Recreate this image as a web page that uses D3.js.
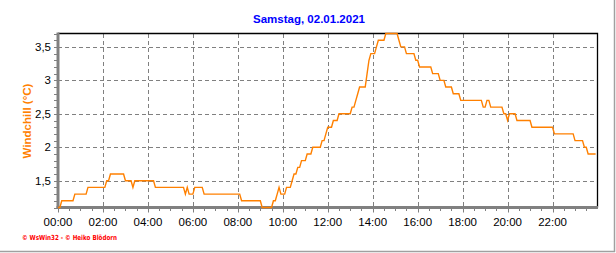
<!DOCTYPE html>
<html>
<head>
<meta charset="utf-8">
<script src="https://cdn.jsdelivr.net/npm/d3@7"></script>
<style>
  body { margin: 0; background: #fff; }
  svg { display: block; font-family: "Liberation Sans", Arial, sans-serif; }
</style>
</head>
<body>
<svg id="chart" width="616" height="253"></svg>
<script>
// Windchill, Samstag 02.01.2021 (5 min samples at change points)
var title = "Samstag, 02.01.2021";
var yLabel = "Windchill  (\u00B0C)";
var credits = "\u00A9 WsWin32  -  \u00A9 Heiko Bl\u00F6dorn";

var times = ["00:00","00:05","00:10","00:40","00:45","01:15","01:20","02:05","02:10","02:15",
  "02:20","02:55","03:00","03:15","03:20","03:25","04:15","04:20","05:35","05:40",
  "05:45","05:50","06:00","06:05","06:25","06:30","08:05","08:10","09:00","09:05",
  "09:30","09:35","09:40","09:45","09:50","09:55","10:05","10:10","10:20","10:25",
  "10:30","10:35","10:40","10:45","10:50","11:00","11:05","11:15","11:20","11:40",
  "11:45","11:50","11:55","12:00","12:10","12:15","12:25","12:30","13:00","13:05",
  "13:10","13:15","13:20","13:25","13:40","13:45","13:50","13:55","14:05","14:10",
  "14:15","14:30","14:35","15:05","15:10","15:15","15:25","15:30","15:50","15:55",
  "16:00","16:05","16:35","16:40","16:55","17:00","17:10","17:15","17:30","17:35",
  "17:50","17:55","18:50","18:55","19:00","19:05","19:10","19:15","19:45","19:50",
  "19:55","20:00","20:05","20:20","20:25","21:00","21:05","22:00","22:05","22:55",
  "23:00","23:20","23:25","23:30","23:35","23:55"];
var values = [1.1,1.1,1.2,1.2,1.3,1.3,1.4,1.4,1.5,1.5,
  1.6,1.6,1.5,1.5,1.4,1.5,1.5,1.4,1.4,1.3,
  1.4,1.3,1.3,1.4,1.4,1.3,1.3,1.2,1.2,1.1,
  1.1,1.2,1.2,1.3,1.4,1.3,1.3,1.4,1.4,1.5,
  1.6,1.6,1.7,1.7,1.8,1.8,1.9,1.9,2.0,2.0,
  2.1,2.1,2.2,2.3,2.3,2.4,2.4,2.5,2.5,2.6,
  2.6,2.7,2.8,2.9,2.9,3.1,3.3,3.4,3.4,3.5,
  3.6,3.6,3.7,3.7,3.6,3.5,3.5,3.4,3.4,3.3,
  3.3,3.2,3.2,3.1,3.1,3.0,3.0,2.9,2.9,2.8,
  2.8,2.7,2.7,2.6,2.6,2.7,2.7,2.6,2.6,2.5,
  2.5,2.4,2.5,2.5,2.4,2.4,2.3,2.3,2.2,2.2,
  2.1,2.1,2.0,2.0,1.9,1.9];

var xTickLabels = ["00:00","02:00","04:00","06:00","08:00","10:00","12:00","14:00","16:00","18:00","20:00","22:00"];
var yTicks = [1.5, 2, 2.5, 3, 3.5];

// plot box (note: "top" is a reserved window prop, so use pTop etc.)
var pLeft = 58, pRight = 597.5, pTop = 33.5, pBottom = 207.5;

function hours(s) {
    var p = s.split(":");
    return +p[0] + (+p[1]) / 60;
}

var svg = d3.select("#chart");

var x = d3.scaleLinear().domain([0, 24]).range([pLeft, pRight]);
var y = d3.scaleLinear().domain([1.1, 3.7]).range([pBottom, pTop]);

var data = times.map(function (t, i) { return {h: hours(t), v: values[i]}; });

// outer frame (right / bottom shadow)
svg.append("line").attr("x1", 614.5).attr("x2", 614.5).attr("y1", 0).attr("y2", 252)
    .attr("stroke", "#a0a0a0").attr("stroke-width", 1.5);
svg.append("line").attr("x1", 0).attr("x2", 615).attr("y1", 251.5).attr("y2", 251.5)
    .attr("stroke", "#a0a0a0").attr("stroke-width", 1.5);

// grid
var grid = svg.append("g").attr("stroke", "#808080").attr("stroke-dasharray", "4,3")
    .attr("shape-rendering", "crispEdges");
grid.selectAll("line.h").data(yTicks).enter().append("line")
    .attr("x1", pLeft).attr("x2", pRight)
    .attr("y1", function (d) { return Math.round(y(d)) + 0.5; })
    .attr("y2", function (d) { return Math.round(y(d)) + 0.5; });
grid.selectAll("line.v").data(xTickLabels.slice(1)).enter().append("line")
    .attr("y1", pTop).attr("y2", pBottom)
    .attr("x1", function (d) { return Math.round(x(hours(d))) + 0.5; })
    .attr("x2", function (d) { return Math.round(x(hours(d))) + 0.5; });

// top / right black border
svg.append("path")
    .attr("d", "M" + pLeft + "," + pTop + "H" + pRight + "V" + pBottom)
    .attr("fill", "none").attr("stroke", "#000").attr("stroke-width", 1.3);

// minor / major ticks
var yMinor = d3.range(11, 38).map(function (d) { return d / 10; });
svg.append("g").selectAll("line").data(yMinor).enter().append("line")
    .attr("x1", pLeft - 4).attr("x2", pLeft)
    .attr("y1", function (d) { return Math.round(y(d)) + 0.5; })
    .attr("y2", function (d) { return Math.round(y(d)) + 0.5; })
    .attr("stroke", "#808080");
var xMinor = d3.range(0, 48).map(function (d) { return d / 2; });
svg.append("g").selectAll("line").data(xMinor).enter().append("line")
    .attr("y1", pBottom).attr("y2", function (d) { return pBottom + (d % 2 === 0 ? 5 : 3.5); })
    .attr("x1", function (d) { return Math.round(x(d)) + 0.5; })
    .attr("x2", function (d) { return Math.round(x(d)) + 0.5; })
    .attr("stroke", "#808080");

// axis lines (thick gray)
svg.append("line").attr("x1", pLeft).attr("x2", pLeft).attr("y1", pTop - 1).attr("y2", pBottom + 1.5)
    .attr("stroke", "#808080").attr("stroke-width", 3);
svg.append("line").attr("x1", pLeft - 1.5).attr("x2", pRight + 0.5).attr("y1", pBottom).attr("y2", pBottom)
    .attr("stroke", "#808080").attr("stroke-width", 3);

// tick labels
svg.append("g").selectAll("text").data(yTicks).enter().append("text")
    .attr("x", 51).attr("y", function (d) { return y(d) + 4; })
    .attr("text-anchor", "end").attr("font-size", 11.5)
    .text(function (d) { return String(d).replace(".", ","); });
svg.append("g").selectAll("text").data(xTickLabels).enter().append("text")
    .attr("x", function (d) { return x(hours(d)); }).attr("y", 225.5)
    .attr("text-anchor", "middle").attr("font-size", 11.5)
    .text(function (d) { return d; });

// line
var line = d3.line()
    .x(function (d) { return x(d.h); })
    .y(function (d) { return y(d.v); });
svg.append("path").datum(data)
    .attr("d", line)
    .attr("fill", "none").attr("stroke", "#ff8000").attr("stroke-width", 1.4);

// texts
svg.append("text").attr("x", 309).attr("y", 22.5).attr("text-anchor", "middle")
    .attr("font-size", 11.5).attr("font-weight", "bold").attr("fill", "#0000ff")
    .text(title);
svg.append("text").attr("transform", "translate(30.5,121) rotate(-90)")
    .attr("text-anchor", "middle").attr("font-size", 11.5).attr("font-weight", "bold")
    .attr("fill", "#ff8000").text(yLabel);
svg.append("text").attr("x", 22).attr("y", 240)
    .attr("font-size", 7).attr("font-weight", "bold").attr("fill", "#ff0000")
    .attr("font-family", "DejaVu Sans, sans-serif")
    .attr("textLength", 95).attr("lengthAdjust", "spacingAndGlyphs")
    .text(credits);
</script>
</body>
</html>
